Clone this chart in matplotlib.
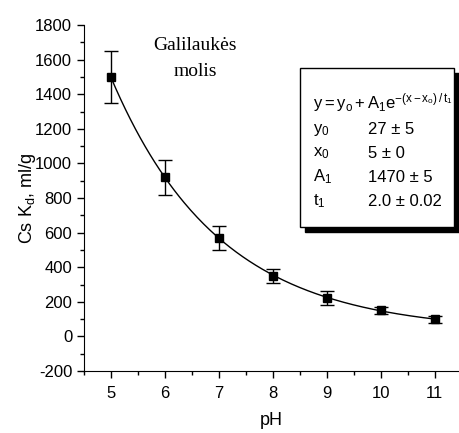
import numpy as np
import matplotlib
matplotlib.use("Agg")
import matplotlib.pyplot as plt
from matplotlib.patches import Rectangle

plt.rcParams['font.family'] = ['Liberation Sans', 'DejaVu Sans']
plt.rcParams['mathtext.fontset'] = 'custom'
plt.rcParams['mathtext.rm'] = 'Liberation Sans'
plt.rcParams['mathtext.it'] = 'Liberation Sans'
plt.rcParams['mathtext.bf'] = 'Liberation Sans:bold'
plt.rcParams['axes.unicode_minus'] = False

# data
ph = [5, 6, 7, 8, 9, 10, 11]
kd = [1500, 920, 570, 350, 220, 150, 100]
kd_err = [150, 100, 70, 40, 40, 20, 20]
y0, x0, A1, t1 = 27, 5, 1470, 2.0
param_names = [r'$\mathregular{y_0}$', r'$\mathregular{x_0}$', r'$\mathregular{A_1}$', r'$\mathregular{t_1}$']
param_vals = ['27 ± 5', '5 ± 0', '1470 ± 5', '2.0 ± 0.02']

W, H = 459, 433
fig = plt.figure(figsize=(W/100, H/100), dpi=100)
ax = fig.add_axes([84/W, 1-371/H, (459-84)/W, (371-25)/H])

xf = np.linspace(5, 11, 200)
ax.plot(xf, y0 + A1*np.exp(-(xf-x0)/t1), color='black', lw=1)
ax.errorbar(ph, kd, yerr=kd_err, fmt='s', color='black', ms=6, capsize=5, elinewidth=1, capthick=1)

ax.set_xlim(4.5, 11.45)
ax.set_ylim(-200, 1800)
ax.set_xticks(ph)
ax.set_xticks(np.arange(4.5, 11.5, 0.5), minor=True)
ax.set_yticks(np.arange(-200, 1801, 200))
ax.set_yticks(np.arange(-200, 1801, 100), minor=True)
for s in ['top', 'right']:
    ax.spines[s].set_visible(False)
ax.tick_params(which='major', direction='out', length=5, labelsize=12, width=1)
ax.tick_params(axis='x', which='major', pad=6)
ax.tick_params(which='minor', direction='out', length=3, width=1)
ax.set_xlabel('pH', fontsize=13, labelpad=8)
ax.set_ylabel(r'Cs K$_\mathregular{d}$, ml/g', fontsize=13, labelpad=-2)

fig.text(195/W, 1-45/H, 'Galilaukės', family='Liberation Serif', fontsize=14, ha='center', va='center')
fig.text(195/W, 1-72/H, 'molis', family='Liberation Serif', fontsize=14, ha='center', va='center')

# box with shadow
bx0, by0, bx1, by1 = 300, 68, 454, 227
fig.patches.append(Rectangle(((bx0+5)/W, 1-(by1+5)/H), (bx1-bx0)/W, (by1-by0)/H,
                             transform=fig.transFigure, facecolor='black', edgecolor='black'))
fig.patches.append(Rectangle((bx0/W, 1-by1/H), (bx1-bx0)/W, (by1-by0)/H,
                             transform=fig.transFigure, facecolor='white', edgecolor='black', lw=1))

fig.text(313/W, 1-103/H, r'$\mathregular{y = y_o + A_1 e^{-(x - x_o)\,/\,t_1}}$', fontsize=12, va='center')
ys = [130, 153, 177, 201]
for nm, v, yy in zip(param_names, param_vals, ys):
    fig.text(313/W, 1-yy/H, nm, fontsize=12, va='center')
    fig.text(368/W, 1-yy/H, v, fontsize=12, va='center')

fig.savefig('out.png', dpi=100)
